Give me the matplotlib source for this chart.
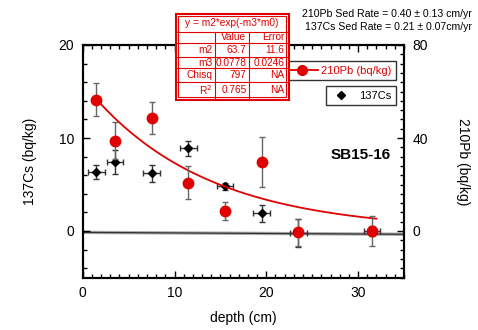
import matplotlib
matplotlib.use("Agg")
import matplotlib.pyplot as plt
import numpy as np
from matplotlib.lines import Line2D
from matplotlib.patches import Rectangle
from matplotlib.ticker import MultipleLocator

plt.rcParams['font.family'] = ['Liberation Sans', 'DejaVu Sans']

# ---- data ----
pb_depth = [1.5, 3.5, 7.5, 11.5, 15.5, 19.5, 23.5, 31.5]
pb_value = [56.5, 38.8, 48.5, 20.8, 8.6, 29.8, -0.5, 0.0]
pb_err = [7.0, 8.0, 6.8, 7.0, 4.0, 10.8, 5.8, 6.5]

cs_depth = [1.5, 3.5, 7.5, 11.5, 15.5, 19.5, 23.5, 31.5]
cs_value = [6.3, 7.4, 6.2, 8.9, 4.8, 1.9, -0.2, 0.0]
cs_err = [0.75, 1.3, 0.9, 0.8, 0.4, 0.9, 1.5, 0.5]
cs_xerr = [0.9, 0.9, 0.9, 0.9, 0.9, 0.9, 0.9, 0.9]

fit_m2 = 63.7
fit_m3 = 0.0778
fit_range = [1.5, 32.0]

zero_line_x = [0, 35]
zero_line_y = [-0.15, -0.35]

table_header = "y = m2*exp(-m3*m0)"
table_rows = [["", "Value", "Error"],
              ["m2", "63.7", "11.6"],
              ["m3", "0.0778", "0.0246"],
              ["Chisq", "797", "NA"],
              ["R$^2$", "0.765", "NA"]]

rate_lines = ["210Pb Sed Rate = 0.40 \u00b1 0.13 cm/yr",
              "137Cs Sed Rate = 0.21 \u00b1 0.07cm/yr"]

W, H = 478, 330
fig = plt.figure(figsize=(W / 100, H / 100), dpi=100)
ax = fig.add_axes([82.7 / W, 1 - 277.5 / H, (404 - 82.7) / W, (277.5 - 45) / H])
ax2 = ax.twinx()

ax.set_xlim(0, 35)
ax.set_ylim(-5, 20)
ax2.set_ylim(-20, 80)

red = '#e00000'

# zero line
ax.plot(zero_line_x, zero_line_y, color='#aaaaaa', lw=2.4, zorder=1)
ax.plot(zero_line_x, zero_line_y, color='#333333', lw=0.9, zorder=1.1)

# Cs
ax.errorbar(cs_depth, cs_value, yerr=cs_err, xerr=cs_xerr, fmt='D', color='black',
            ms=4.5, ecolor='#333333', elinewidth=1, capsize=2, zorder=3)

# Pb
xs = np.linspace(fit_range[0], fit_range[1], 200)
ax2.plot(xs, fit_m2 * np.exp(-fit_m3 * xs), color=red, lw=1.3, zorder=2)
ax2.errorbar(pb_depth, pb_value, yerr=pb_err, fmt='o', color=red, ms=7.5,
             ecolor='#666666', elinewidth=1, capsize=2.5, zorder=4)

for a in (ax, ax2):
    a.tick_params(direction='in', which='both', labelsize=10)
    for s in a.spines.values():
        s.set_linewidth(1.5)
ax.set_xticks([0, 10, 20, 30])
ax.xaxis.set_minor_locator(MultipleLocator(1))
ax.set_yticks([0, 10, 20])
ax.yaxis.set_minor_locator(MultipleLocator(2))
ax2.set_yticks([0, 40, 80])
ax2.yaxis.set_minor_locator(MultipleLocator(4))
ax.tick_params(which='major', length=5, top=True, width=1)
ax.tick_params(which='minor', length=3, top=True, width=1)
ax2.tick_params(which='major', length=5, width=1)
ax2.tick_params(which='minor', length=3, width=1)
ax.tick_params(axis='x', pad=6)
ax.tick_params(axis='y', pad=6)
ax2.tick_params(axis='y', pad=6)

ax.set_xlabel('depth (cm)', fontsize=10, labelpad=8)
ax.set_ylabel('137Cs (bq/kg)', fontsize=10, labelpad=16)
ax2.set_ylabel('210Pb (bq/kg)', fontsize=10, labelpad=20, rotation=270, va='bottom')

ax.text(33.6, 8.2, 'SB15-16', fontsize=11, fontweight='bold', ha='right', va='center', zorder=5)

# legends
h_pb = Line2D([], [], color=red, marker='o', ms=7, lw=1.3)
leg1 = ax2.legend([h_pb], ['210Pb (bq/kg)'], loc='upper right',
                  bbox_to_anchor=(0.975, 0.93), frameon=True, fancybox=False,
                  edgecolor='black', fontsize=8, borderpad=0.4, handlelength=2.8,
                  handletextpad=0.3, borderaxespad=0)
for t in leg1.get_texts():
    t.set_color(red)
leg1.get_frame().set_linewidth(1)
ax2.add_artist(leg1)
h_cs = Line2D([], [], color='black', marker='D', ms=4.5, lw=0)
leg2 = ax2.legend([h_cs], ['137Cs'], loc='upper right',
                  bbox_to_anchor=(0.975, 0.822), frameon=True, fancybox=False,
                  edgecolor='black', fontsize=8, borderpad=0.4, handlelength=2.0,
                  handletextpad=0.6, borderaxespad=0)
leg2.get_frame().set_linewidth(1)

# table (pixel coords -> figure coords)
def fx(px): return px / W
def fy(py): return 1 - py / H

tx0, tx1 = 177, 287
cols = [177, 215, 249, 287]
rows_y = [15, 31.7, 43.3, 56.7, 68.3, 81.7, 98.3]
fig.add_artist(Rectangle((fx(tx0 - 1.5), fy(rows_y[-1] + 1.5)), fx(tx1 - tx0 + 3),
                         (rows_y[-1] - rows_y[0] + 3) / H, facecolor='white',
                         edgecolor=red, lw=1.5, zorder=10))
fig.add_artist(Rectangle((fx(tx0 + 1), fy(rows_y[-1] - 1)), fx(tx1 - tx0 - 2),
                         (rows_y[-1] - rows_y[0] - 2) / H, facecolor='none',
                         edgecolor=red, lw=0.8, zorder=11))
for ry in rows_y[1:-1]:
    fig.add_artist(Line2D([fx(tx0), fx(tx1)], [fy(ry), fy(ry)], color=red, lw=0.8, zorder=11))
for cx in cols[1:-1]:
    fig.add_artist(Line2D([fx(cx), fx(cx)], [fy(rows_y[1]), fy(rows_y[-1])], color=red, lw=0.8, zorder=11))
fig.text(fx((tx0 + tx1) / 2), fy((rows_y[0] + rows_y[1]) / 2), table_header, color=red,
         fontsize=7.3, ha='center', va='center', zorder=12)
for i, row in enumerate(table_rows):
    yc = (rows_y[i + 1] + rows_y[i + 2]) / 2
    for j, cell in enumerate(row):
        fig.text(fx(cols[j + 1] - 2.5), fy(yc), cell, color=red, fontsize=7.3,
                 ha='right', va='center', zorder=12)

fig.text(fx(472), fy(14), rate_lines[0], fontsize=7.6, ha='right', va='center')
fig.text(fx(472), fy(27), rate_lines[1], fontsize=7.6, ha='right', va='center')

fig.savefig('out.png', dpi=100)
